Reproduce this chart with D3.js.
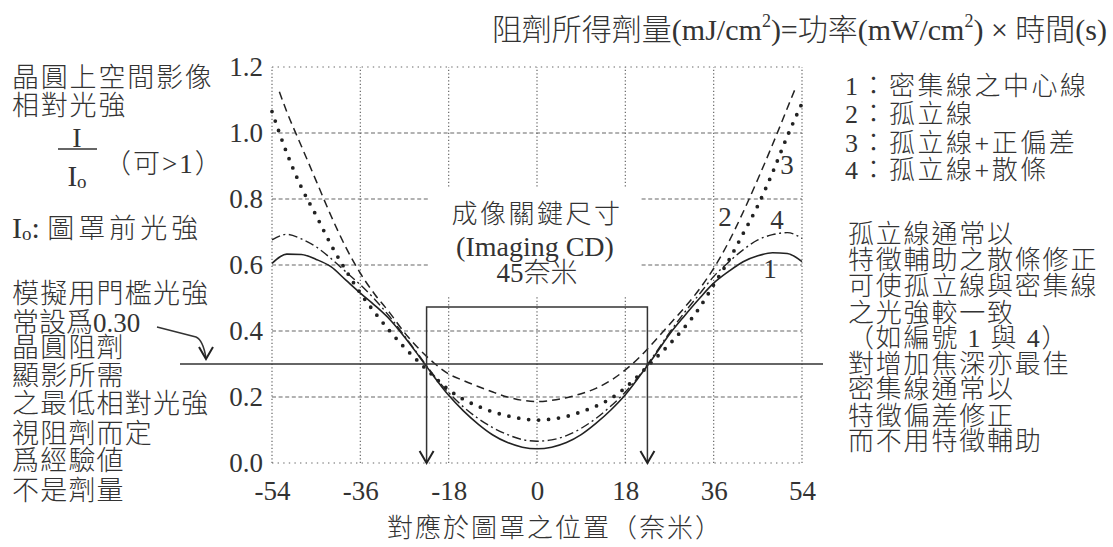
<html>
<head>
    <meta charset="utf-8">
    <script src="https://d3js.org/d3.v7.min.js"></script>
    <style>
        body { margin: 0; background: #fff; }
        svg text {
            font-family: "Liberation Serif", "Noto Sans CJK TC", serif;
            font-weight: 300;
            fill: #333;
        }
    </style>
</head>
<body>

<svg id="chart" width="1113" height="547"></svg>

<script>

    // axis ticks
    let xTicks = [-54, -36, -18, 0, 18, 36, 54]
    let yTicks = [0, 0.2, 0.4, 0.6, 0.8, 1.0, 1.2]

    // positions (nm) for curves 1, 3, 4
    let xPos = [-54, -51, -48, -45, -42, -39, -36, -33, -30, -27, -24, -21, -18, -15, -12, -9, -6, -3,
                0, 3, 6, 9, 12, 15, 18, 21, 24, 27, 30, 33, 36, 39, 42, 45, 48, 51, 54]
    // curve 2 stops a bit earlier
    let xPosIso = [-52.5, -51, -48, -45, -42, -39, -36, -33, -30, -27, -24, -21, -18, -15, -12, -9, -6, -3,
                   0, 3, 6, 9, 12, 15, 18, 21, 24, 27, 30, 33, 36, 39, 42, 45, 48, 51, 52.5]

    // 1: dense line centre (solid)
    let denseCenter = [0.605, 0.633, 0.632, 0.617, 0.595, 0.555, 0.515, 0.477, 0.435, 0.382, 0.323, 0.262, 0.205, 0.158, 0.118, 0.085, 0.062, 0.048,
                       0.043, 0.048, 0.062, 0.086, 0.12, 0.16, 0.207, 0.265, 0.326, 0.39, 0.445, 0.497, 0.545, 0.58, 0.61, 0.628, 0.637, 0.635, 0.61]
    // 2: isolated line (dashed)
    let isolated = [1.125, 1.065, 0.96, 0.855, 0.75, 0.655, 0.575, 0.51, 0.455, 0.395, 0.345, 0.303, 0.27, 0.25, 0.232, 0.215, 0.2, 0.19,
                    0.186, 0.19, 0.198, 0.21, 0.226, 0.25, 0.282, 0.322, 0.37, 0.42, 0.47, 0.525, 0.59, 0.668, 0.76, 0.86, 0.965, 1.075, 1.13]
    // 3: isolated + positive bias (dotted)
    let isoBias = [1.065, 0.94, 0.835, 0.75, 0.662, 0.585, 0.515, 0.455, 0.40, 0.35, 0.305, 0.262, 0.222, 0.193, 0.172, 0.155, 0.143, 0.134,
                   0.13, 0.133, 0.141, 0.155, 0.172, 0.195, 0.228, 0.27, 0.315, 0.36, 0.41, 0.468, 0.54, 0.612, 0.695, 0.78, 0.88, 0.99, 1.09]
    // 4: isolated + scattering bars (dash-dot)
    let isoSraf = [0.676, 0.693, 0.679, 0.655, 0.62, 0.58, 0.54, 0.495, 0.443, 0.385, 0.325, 0.265, 0.213, 0.17, 0.135, 0.107, 0.086, 0.071,
                   0.066, 0.07, 0.083, 0.105, 0.135, 0.172, 0.215, 0.268, 0.33, 0.395, 0.455, 0.51, 0.565, 0.608, 0.646, 0.676, 0.692, 0.698, 0.681]

    let threshold = 0.30
    let cdHalf = 22.5
    let boxTop = 0.473

    let svg = d3.select("#chart")

    let x = d3.scaleLinear().domain([-54, 54]).range([272, 802])
    let y = d3.scaleLinear().domain([0, 1.2]).range([463, 67])

    // grid
    let grid = svg.append("g").attr("stroke", "#666").attr("stroke-width", 1.2).attr("fill", "none")

    grid.selectAll(".hgrid")
        .data(yTicks)
        .enter().append("line")
        .attr("x1", x(-54)).attr("x2", x(54))
        .attr("y1", d => y(d)).attr("y2", d => y(d))
        .attr("stroke-dasharray", (d, i) => (i == 0 || i == yTicks.length - 1) ? "1.4,4.2" : "4,2.6")

    grid.selectAll(".vgrid")
        .data(xTicks)
        .enter().append("line")
        .attr("x1", d => x(d)).attr("x2", d => x(d))
        .attr("y1", y(0)).attr("y2", y(1.2))
        .attr("stroke-dasharray", "1.3,2.2")

    // white box behind the centre label
    svg.append("rect")
        .attr("x", 430).attr("y", 187)
        .attr("width", 210).attr("height", 108)
        .attr("fill", "#fff")

    // axes
    let yAxis = svg.append("g")
        .attr("transform", `translate(${x(-54)},0)`)
        .call(d3.axisLeft(y).tickValues(yTicks).tickFormat(d3.format(".1f")).tickSize(0).tickPadding(9))
    yAxis.select(".domain").remove()

    let xAxis = svg.append("g")
        .attr("transform", `translate(0,${y(0)})`)
        .call(d3.axisBottom(x).tickValues(xTicks).tickFormat(d => String(d)).tickSize(0).tickPadding(18))
    xAxis.select(".domain").remove()

    svg.selectAll(".tick text")
        .attr("font-family", null).attr("font-size", null).attr("fill", "#333")
        .style("font-size", "27px")

    // curves
    let line = d3.line()
        .x(d => x(d[0]))
        .y(d => y(d[1]))
        .curve(d3.curveMonotoneX)

    let series = [
        {xs: xPos, ys: denseCenter, dash: null, width: 1.6, cap: "butt"},
        {xs: xPosIso, ys: isolated, dash: "8,5", width: 1.5, cap: "butt"},
        {xs: xPos, ys: isoBias, dash: "0,10", width: 3.8, cap: "round"},
        {xs: xPos, ys: isoSraf, dash: "9,3.5,2,3.5", width: 1.4, cap: "butt"}
    ]

    svg.selectAll(".curve")
        .data(series)
        .enter().append("path")
        .attr("class", "curve")
        .attr("fill", "none")
        .attr("stroke", "#222")
        .attr("stroke-width", d => d.width)
        .attr("stroke-linecap", d => d.cap)
        .attr("stroke-dasharray", d => d.dash)
        .attr("d", d => line(d.xs.map((v, i) => [v, d.ys[i]])))

    // threshold line
    svg.append("line")
        .attr("x1", 180).attr("x2", 823)
        .attr("y1", y(threshold)).attr("y2", y(threshold))
        .attr("stroke", "#333").attr("stroke-width", 1.5)

    // CD box with down arrows
    svg.append("path")
        .attr("fill", "none").attr("stroke", "#333").attr("stroke-width", 1.5)
        .attr("d", `M${x(-cdHalf)},${y(0)} V${y(boxTop)} H${x(cdHalf)} V${y(0)}`)

    ;[-cdHalf, cdHalf].forEach(v => {
        svg.append("path")
            .attr("fill", "none").attr("stroke", "#222").attr("stroke-width", 2)
            .attr("d", `M${x(v) - 7},${y(0) - 12} L${x(v)},${y(0)} L${x(v) + 7},${y(0) - 12}`)
    })

    // annotation arrow for 0.30
    svg.append("path")
        .attr("fill", "none").attr("stroke", "#333").attr("stroke-width", 1.5)
        .attr("d", `M157,327 L196,337 Q203,340 206,${y(threshold) - 6}`)
    svg.append("path")
        .attr("fill", "none").attr("stroke", "#222").attr("stroke-width", 2)
        .attr("d", `M199,${y(threshold) - 17} L206,${y(threshold) - 5} L213,${y(threshold) - 17}`)

    // curve numbers
    let curveLabels = [
        {t: "1", x: 770, y: 278},
        {t: "2", x: 725, y: 226},
        {t: "3", x: 787, y: 174},
        {t: "4", x: 777, y: 229}
    ]
    svg.selectAll(".clab")
        .data(curveLabels)
        .enter().append("text")
        .attr("x", d => d.x).attr("y", d => d.y)
        .attr("text-anchor", "middle")
        .style("font-size", "27px")
        .text(d => d.t)

    // centre label
    svg.append("text").attr("x", 537).attr("y", 223).attr("text-anchor", "middle")
        .style("font-size", "26px").style("letter-spacing", "2.5px").text("成像關鍵尺寸")
    svg.append("text").attr("x", 535).attr("y", 256).attr("text-anchor", "middle")
        .style("font-size", "28px").text("(Imaging CD)")
    svg.append("text").attr("x", 537).attr("y", 282).attr("text-anchor", "middle")
        .style("font-size", "27px").text("45奈米")

    // x axis title
    svg.append("text").attr("x", 555).attr("y", 537).attr("text-anchor", "middle")
        .style("font-size", "26px").style("letter-spacing", "2px").text("對應於圖罩之位置（奈米）")

    // top formula
    let title = svg.append("text").attr("x", 1107).attr("y", 40).attr("text-anchor", "end")
        .style("font-size", "30px")
    title.append("tspan").text("阻劑所得劑量(mJ/cm")
    title.append("tspan").attr("dy", -13).style("font-size", "18px").text("2")
    title.append("tspan").attr("dy", 13).text(")=功率(mW/cm")
    title.append("tspan").attr("dy", -13).style("font-size", "18px").text("2")
    title.append("tspan").attr("dy", 13).text(") × 時間(s)")

    // text blocks
    function block(lines, x0, size, spacing) {
        lines.forEach(l => {
            svg.append("text")
                .attr("x", x0).attr("y", l[1])
                .style("font-size", size + "px")
                .style("letter-spacing", (l[2] != null ? l[2] : spacing) + "px")
                .text(l[0])
        })
    }

    block([["晶圓上空間影像", 87], ["相對光強", 115]], 12, 27, 1.8)
    block([["（可>1）", 173]], 104, 27, 2)

    svg.append("text").attr("x", 77).attr("y", 147).attr("text-anchor", "middle")
        .style("font-size", "28px").text("I")
    svg.append("line").attr("x1", 58).attr("x2", 97).attr("y1", 149).attr("y2", 149)
        .attr("stroke", "#333").attr("stroke-width", 1.5)
    let io = svg.append("text").attr("x", 77).attr("y", 186).attr("text-anchor", "middle")
        .style("font-size", "29px")
    io.append("tspan").text("I")
    io.append("tspan").attr("dy", 2).style("font-size", "19px").text("o")

    let io2 = svg.append("text").attr("x", 12).attr("y", 238).style("font-size", "30px")
    io2.append("tspan").text("I")
    io2.append("tspan").attr("dy", 2).style("font-size", "19px").text("o")
    io2.append("tspan").attr("dy", -2).text(": ")
    io2.append("tspan").style("font-size", "27px").style("letter-spacing", "4px").text("圖罩前光強")

    block([
        ["模擬用門檻光強", 303],
        ["常設爲0.30", 332, 0],
        ["晶圓阻劑", 357],
        ["顯影所需", 385],
        ["之最低相對光強", 413],
        ["視阻劑而定", 443],
        ["爲經驗値", 470],
        ["不是劑量", 500]
    ], 12, 27, 1.2)

    block([
        ["1：密集線之中心線", 95],
        ["2：孤立線", 123],
        ["3：孤立線+正偏差", 152],
        ["4：孤立線+散條", 179]
    ], 845, 26, 2.5)

    block([
        ["孤立線通常以", 243],
        ["特徵輔助之散條修正", 269],
        ["可使孤立線與密集線", 295],
        ["之光強較一致", 322],
        ["（如編號 1 與 4）", 347],
        ["對增加焦深亦最佳", 373],
        ["密集線通常以", 398],
        ["特徵偏差修正", 425],
        ["而不用特徵輔助", 450]
    ], 848, 26, 1.8)

</script>

</body>
</html>
